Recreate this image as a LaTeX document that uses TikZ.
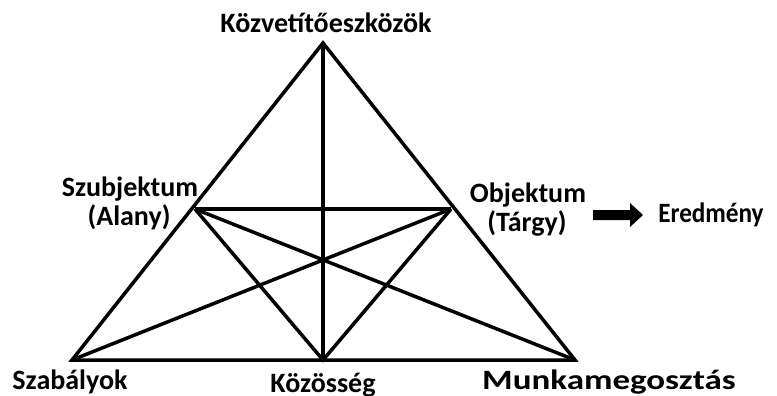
\documentclass[tikz,border=0pt]{standalone}
\usepackage{fontspec}
\setmainfont{Carlito}
\begin{document}
\begin{tikzpicture}[x=1pt,y=-1pt,
  edge/.style={line width=3.5pt,line join=miter},
  lbl/.style={font=\fontsize{28}{32}\selectfont\bfseries,inner sep=0pt,align=center}]
\useasboundingbox (0,0) rectangle (777,396);
\coordinate (T) at (323,43);
\coordinate (L) at (72,360);
\coordinate (R) at (575,360);
\coordinate (M) at (323,360);
\coordinate (S) at (195,209);
\coordinate (O) at (451,209);
\draw[edge] (T) -- (L) -- (R) -- cycle;
\draw[edge] (T) -- (M);
\draw[edge] (S) -- (O);
\draw[edge] (S) -- (M) -- (O);
\draw[edge] (S) -- (R);
\draw[edge] (O) -- (L);
\node[lbl,anchor=base] (tk) at (326,33) {Közvetítőeszközök};
\node[lbl,anchor=base] (ts) at (130,196) {Szubjektum};
\node[lbl,anchor=base] (ta) at (129,225) {(Alany)};
\node[lbl,anchor=base] (to) at (528,202) {Objektum};
\node[lbl,anchor=base] (tt) at (527,231) {(Tárgy)};
\node[lbl,anchor=base,xscale=0.9] (te) at (711,222) {Eredmény};
\node[lbl,anchor=base] (tsz) at (70,389) {Szabályok};
\node[lbl,anchor=base] (tko) at (323,392) {Közösség};
\node[lbl,anchor=base,xscale=1.25] (tm) at (609,389) {Munkamegosztás};
\fill (593,210) -- (630,210) -- (630,203) -- (643,215) -- (630,227) -- (630,220) -- (593,220) -- cycle;
\end{tikzpicture}
\end{document}
